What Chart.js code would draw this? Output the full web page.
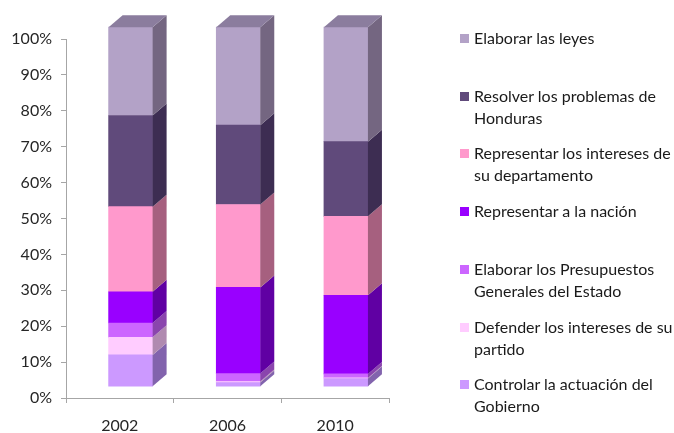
<!DOCTYPE html>
<html>
<head>
<meta charset="utf-8">
<script src="https://cdn.jsdelivr.net/npm/chart.js"></script>
<style>
  body { margin: 0; background: #fff; }
  #wrap { position: relative; width: 674px; height: 433px; font-family: Lato, sans-serif; }
  .item { position: absolute; left: 460px; width: 222px; padding-left: 14px; box-sizing: border-box;
          font-size: 16px; line-height: 22px; color: #1a1a1a; }
  .item span { position: absolute; left: 0; top: 7px; width: 9px; height: 9px; }
</style>
</head>
<body>
<div id="wrap">
  <canvas id="grafico" width="674" height="433"></canvas>
  <div id="leyenda"></div>
</div>
<script>
// categorias (años)
const anios = ['2002', '2006', '2010'];

// series, de abajo hacia arriba en la pila (% del total)
const controlar    = [8.7, 1.0, 2.1];
const defender     = [4.9, 0.3, 0.2];
const presupuestos = [4.0, 2.2, 1.1];
const nacion       = [8.7, 24.0, 21.9];
const intereses    = [23.7, 23.1, 22.0];
const resolver     = [25.4, 22.1, 20.8];
const leyes        = [24.6, 27.3, 31.9];

const nombres = [
  'Controlar la actuación del Gobierno',
  'Defender los intereses de su partido',
  'Elaborar los Presupuestos Generales del Estado',
  'Representar a la nación',
  'Representar los intereses de su departamento',
  'Resolver los problemas de Honduras',
  'Elaborar las leyes'
];
const valores = [controlar, defender, presupuestos, nacion, intereses, resolver, leyes];
const colores = ['#CC99FF', '#FFCCFF', '#CC66FF', '#9900FF', '#FF99CC', '#604A7B', '#B3A2C7'];
const coloresLado = ['#8263AD', '#B08AB0', '#8A45AD', '#6000A3', '#A6607F', '#3D2D52', '#746681'];
const colorTapa = '#8B7D9E';

const yTicks = [0, 10, 20, 30, 40, 50, 60, 70, 80, 90, 100];

// caras laterales y tapa para el efecto 3D
const caras3d = {
  id: 'caras3d',
  afterDatasetsDraw(chart) {
    const ctx = chart.ctx;
    const dx = 14, dy = -12;
    const n = chart.data.datasets.length;
    ctx.save();
    chart.data.datasets.forEach((ds, i) => {
      const meta = chart.getDatasetMeta(i);
      meta.data.forEach(bar => {
        const p = bar.getProps(['x', 'y', 'base', 'width'], true);
        const l = p.x - p.width / 2, r = p.x + p.width / 2;
        const t = Math.min(p.y, p.base), b = Math.max(p.y, p.base);
        ctx.fillStyle = coloresLado[i];
        ctx.beginPath();
        ctx.moveTo(r, t);
        ctx.lineTo(r + dx, t + dy);
        ctx.lineTo(r + dx, b + dy);
        ctx.lineTo(r, b);
        ctx.closePath();
        ctx.fill();
        if (i === n - 1) {
          ctx.fillStyle = colorTapa;
          ctx.beginPath();
          ctx.moveTo(l, t);
          ctx.lineTo(l + dx, t + dy);
          ctx.lineTo(r + dx, t + dy);
          ctx.lineTo(r, t);
          ctx.closePath();
          ctx.fill();
        }
      });
    });
    ctx.restore();
  }
};

const colorEje = '#A6A6A6';
const fuente = { family: 'Lato', size: 16 };

new Chart(document.getElementById('grafico'), {
  type: 'bar',
  data: {
    labels: anios,
    datasets: valores.map((serie, i) => ({
      label: nombres[i],
      data: serie.map((v, j) => ({ x: j, y: v })),
      backgroundColor: colores[i],
      borderWidth: 0,
      barThickness: 44,
      xAxisID: 'xb',
      yAxisID: 'yb',
      clip: false
    }))
  },
  options: {
    responsive: false,
    animation: false,
    layout: { padding: { top: 39, right: 285, left: 0, bottom: 0 } },
    plugins: { legend: { display: false }, tooltip: { enabled: false } },
    scales: {
      x: {
        type: 'category',
        offset: true,
        grid: { offset: true, drawOnChartArea: false, tickLength: 5, color: colorEje },
        border: { color: colorEje },
        ticks: { color: '#262626', font: fuente, padding: 13 },
        afterFit(s) { s.height = 35; }
      },
      y: {
        type: 'linear',
        min: 0, max: 100,
        afterBuildTicks(s) { s.ticks = yTicks.map(v => ({ value: v })); },
        grid: { drawOnChartArea: false, tickLength: 5, color: colorEje },
        border: { color: colorEje },
        ticks: { color: '#262626', font: fuente, padding: 9, callback: v => v + '%' },
        afterFit(s) { s.width = 66; }
      },
      // ejes ocultos para las barras (desplazadas por la perspectiva)
      xb: { type: 'linear', display: false, offset: false, min: -0.6, max: 2.4, stacked: true },
      yb: { type: 'linear', display: false, min: -3.3, max: 96.7, stacked: true }
    }
  },
  plugins: [caras3d]
});

// leyenda HTML (orden invertido, con texto en varias líneas)
const leyenda = document.getElementById('leyenda');
for (let k = 0; k < nombres.length; k++) {
  const i = nombres.length - 1 - k;
  const div = document.createElement('div');
  div.className = 'item';
  div.style.top = (27 + k * 57.7) + 'px';
  const sw = document.createElement('span');
  sw.style.background = colores[i];
  div.appendChild(sw);
  div.appendChild(document.createTextNode(nombres[i]));
  leyenda.appendChild(div);
}
</script>
</body>
</html>
